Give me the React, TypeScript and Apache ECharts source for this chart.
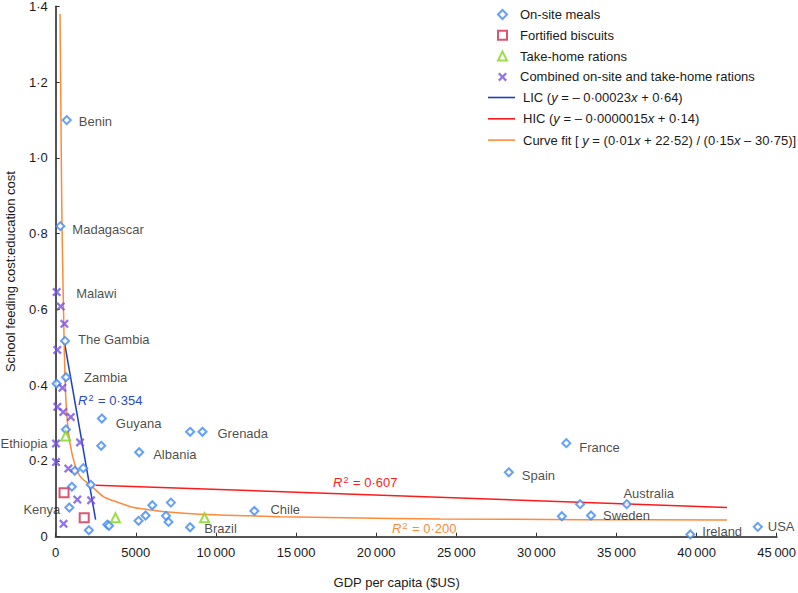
import React, { useEffect, useRef } from 'react';
import * as echarts from 'echarts';

// ---- Data ----
// [GDP per capita ($US), feeding cost : education cost, country label]
const onSiteMeals: [number, number, string][] = [
  [690, 1.10, 'Benin'],
  [290, 0.82, 'Madagascar'],
  [580, 0.517, 'The Gambia'],
  [640, 0.421, 'Zambia'],
  [60, 0.404, ''],
  [640, 0.283, ''],
  [2880, 0.312, 'Guyana'],
  [2840, 0.240, ''],
  [5210, 0.223, 'Albania'],
  [8390, 0.277, ''],
  [9160, 0.277, 'Grenada'],
  [1190, 0.174, ''],
  [1720, 0.181, ''],
  [2190, 0.137, ''],
  [1010, 0.132, ''],
  [850, 0.077, 'Kenya'],
  [2070, 0.017, ''],
  [3220, 0.032, ''],
  [3330, 0.029, ''],
  [5170, 0.042, ''],
  [5610, 0.056, ''],
  [6030, 0.083, ''],
  [6890, 0.055, ''],
  [7040, 0.039, ''],
  [7190, 0.090, ''],
  [8390, 0.025, ''],
  [12400, 0.068, 'Chile'],
  [28280, 0.170, 'Spain'],
  [31870, 0.247, 'France'],
  [31590, 0.054, ''],
  [32730, 0.086, ''],
  [33410, 0.056, 'Sweden'],
  [35640, 0.086, 'Australia'],
  [39610, 0.006, 'Ireland'],
  [43820, 0.026, 'USA'],
];

const fortifiedBiscuits: [number, number, string][] = [
  [520, 0.116, ''],
  [1780, 0.050, ''],
];

const takeHomeRations: [number, number, string][] = [
  [620, 0.266, ''],
  [3730, 0.050, ''],
  [9290, 0.050, 'Brazil'],
];

const combinedRations: [number, number, string][] = [
  [60, 0.646, 'Malawi'],
  [310, 0.608, ''],
  [540, 0.562, ''],
  [100, 0.493, ''],
  [420, 0.393, ''],
  [100, 0.343, ''],
  [475, 0.329, ''],
  [940, 0.316, ''],
  [1520, 0.249, ''],
  [20, 0.246, 'Ethiopia'],
  [20, 0.197, ''],
  [790, 0.180, ''],
  [1350, 0.098, ''],
  [2210, 0.096, ''],
  [490, 0.034, ''],
];

const licLine: [number, number][] = [
  [560, 0.51],
  [2490, 0.045],
];

const hicLine: [number, number][] = [
  [2500, 0.136],
  [41900, 0.077],
];

const curveFit: [number, number][] = [
  [270, 1.38], [310, 1.2], [350, 1.0], [395, 0.82], [475, 0.625],
  [580, 0.42], [700, 0.32], [900, 0.245], [1200, 0.19], [1550, 0.158],
  [2200, 0.135], [3000, 0.105], [3600, 0.095], [4800, 0.078], [5700, 0.072],
  [7000, 0.065], [9000, 0.059], [12000, 0.055], [14000, 0.053], [18000, 0.05],
  [24000, 0.047], [33000, 0.045], [41900, 0.044],
];

const yTicks = [0, 0.2, 0.4, 0.6, 0.8, 1.0, 1.2, 1.4];
const xTicks = [0, 5000, 10000, 15000, 20000, 25000, 30000, 35000, 40000, 45000];

const legendText: Record<string, string> = {
  'On-site meals': 'On-site meals',
  'Fortified biscuits': 'Fortified biscuits',
  'Take-home rations': 'Take-home rations',
  'Combined on-site and take-home rations': 'Combined on-site and take-home rations',
  LIC: 'LIC ({i|y} = – 0·00023{i|x} + 0·64)',
  HIC: 'HIC ({i|y} = – 0·0000015{i|x} + 0·14)',
  'Curve fit': 'Curve fit [ {i|y} = (0·01{i|x} + 22·52) / (0·15{i|x} – 30·75)]',
};

// label placement (styling, not data)
const labelPlacement: Record<string, any> = {
  Benin: { position: 'right', offset: [0, 1] },
  Madagascar: { position: 'right', offset: [0, 3] },
  Malawi: { position: 'right', offset: [8, 1] },
  'The Gambia': { position: 'right', offset: [1, -1] },
  Zambia: { position: 'right', offset: [6, 0] },
  Guyana: { position: 'right', offset: [2, 5] },
  Grenada: { position: 'right', offset: [3, 2] },
  Albania: { position: 'right', offset: [2, 2] },
  Chile: { position: 'right', offset: [4, -1] },
  Spain: { position: 'right', offset: [1, 3] },
  France: { position: 'right', offset: [1, 4] },
  Sweden: { position: 'right', offset: [0, 0] },
  Ireland: { position: 'right', offset: [0, -3] },
  USA: { position: 'right', offset: [-2, 0] },
  Australia: { position: 'top', distance: 0, offset: [22, 1] },
  Brazil: { position: 'bottom', distance: 0, offset: [16, -1] },
  Ethiopia: { position: 'left', distance: 4, offset: [0, 0] },
  Kenya: { position: 'left', distance: 4, offset: [0, 2] },
};

const FONT = '"Liberation Sans", Arial, Helvetica, sans-serif';
const CROSS = 'path://M0,1.8L1.8,0L5,3.2L8.2,0L10,1.8L6.8,5L10,8.2L8.2,10L5,6.8L1.8,10L0,8.2L3.2,5Z';
const BAR = 'path://M0,0L27,0L27,1.6L0,1.6Z';

const BLUE = '#3c88f5';
const RED_SQ = '#d42a4e';
const GREEN = '#82d41c';
const PURPLE = '#7550e6';
const LIC_C = '#1f3fc2';
const HIC_C = '#ff1a1a';
const CURVE_C = '#ff8a3a';

function toItems(arr: [number, number, string][]) {
  return arr.map(([x, y, name]) => {
    if (!name) return { value: [x, y] };
    const p = labelPlacement[name] || { position: 'right' };
    return {
      value: [x, y],
      name,
      label: {
        show: true,
        formatter: name,
        distance: 7,
        color: '#1a1a1a',
        fontSize: 13,
        fontFamily: FONT,
        ...p,
      },
    };
  });
}

function fmtY(v: number) {
  if (v === 0) return '0';
  return v.toFixed(1).replace('.', '·');
}
function fmtX(v: number) {
  if (v >= 10000) return `${Math.floor(v / 1000)}\u2009000`;
  return String(v);
}

function r2(text: string, color: string) {
  return {
    text: `{r|R}{s|2}{t| = ${text}}`,
    rich: {
      r: { fontStyle: 'italic', fontSize: 13, fill: color, fontFamily: FONT },
      s: { fontSize: 9, fill: color, verticalAlign: 'top', fontFamily: FONT, padding: [0, 1, 6, 1] },
      t: { fontSize: 13, fill: color, fontFamily: FONT },
    },
  };
}

export default function App() {
  const ref = useRef<HTMLDivElement>(null);
  useEffect(() => {
    document.body.style.margin = '0';
    if (!ref.current) return;
    const chart = echarts.init(ref.current, undefined, { renderer: 'svg' });
    const rich = { i: { fontStyle: 'italic', fontSize: 13, fontFamily: FONT, color: '#1a1a1a' } };
    const baseText = { fontSize: 13, fontFamily: FONT, color: '#1a1a1a', rich };
    const legendCommon = {
      orient: 'vertical',
      padding: 0,
      selectedMode: false,
      symbolKeepAspect: true,
      formatter: (n: string) => legendText[n] || n,
    };
    chart.setOption({
      animation: false,
      backgroundColor: '#ffffff',
      textStyle: { fontFamily: FONT },
      grid: {
        left: 55.7,
        right: 21.3,
        top: 6.5,
        bottom: 56.3,
        containLabel: false,
        outerBoundsMode: 'none',
      },
      legend: [
        {
          ...legendCommon,
          left: 497,
          top: 8,
          itemWidth: 9,
          itemHeight: 9,
          itemGap: 7.8,
          textStyle: { ...baseText, padding: [0, 0, 0, 8] },
          data: [
            { name: 'On-site meals', icon: 'emptyDiamond' },
            { name: 'Fortified biscuits', icon: 'emptyRect' },
            { name: 'Take-home rations', icon: 'emptyTriangle' },
            { name: 'Combined on-site and take-home rations', icon: CROSS },
          ],
        },
        {
          ...legendCommon,
          left: 488,
          top: 91,
          itemWidth: 27,
          itemHeight: 9,
          itemGap: 8.3,
          textStyle: { ...baseText, padding: [0, 0, 0, 3] },
          data: [
            { name: 'LIC', icon: BAR },
            { name: 'HIC', icon: BAR },
            { name: 'Curve fit', icon: BAR },
          ],
        },
      ],
      xAxis: {
        type: 'value',
        min: 0,
        max: 45000,
        interval: 5000,
        name: 'GDP per capita ($US)',
        nameLocation: 'middle',
        nameGap: 39,
        nameTextStyle: { fontSize: 13, color: '#1a1a1a', fontFamily: FONT, padding: [0, 39, 0, 0] },
        axisLine: { show: true, lineStyle: { color: '#555', width: 2 } },
        axisTick: { show: true, inside: true, length: 4, lineStyle: { color: '#333', width: 1 } },
        axisLabel: {
          margin: 9,
          fontSize: 13,
          color: '#1a1a1a',
          fontFamily: FONT,
          formatter: (v: number) => (xTicks.includes(v) ? fmtX(v) : ''),
        },
        splitLine: { show: false },
      },
      yAxis: {
        type: 'value',
        min: 0,
        max: 1.4,
        interval: 0.2,
        name: 'School feeding cost:education cost',
        nameLocation: 'middle',
        nameGap: 39,
        nameTextStyle: { fontSize: 13, color: '#1a1a1a', fontFamily: FONT },
        axisLine: { show: true, lineStyle: { color: '#555', width: 2 } },
        axisTick: { show: true, inside: true, length: 4, lineStyle: { color: '#333', width: 1 } },
        axisLabel: {
          margin: 8,
          fontSize: 13,
          color: '#1a1a1a',
          fontFamily: FONT,
          formatter: (v: number) => {
            const t = yTicks.find((k) => Math.abs(k - v) < 1e-6);
            return t === undefined ? '' : fmtY(t);
          },
        },
        splitLine: { show: false },
      },
      series: [
        {
          name: 'LIC',
          type: 'line',
          data: licLine,
          symbol: 'none',
          lineStyle: { color: LIC_C, width: 1.5 },
          itemStyle: { color: LIC_C },
          z: 2,
        },
        {
          name: 'HIC',
          type: 'line',
          data: hicLine,
          symbol: 'none',
          lineStyle: { color: HIC_C, width: 1.5 },
          itemStyle: { color: HIC_C },
          z: 2,
        },
        {
          name: 'Curve fit',
          type: 'line',
          data: curveFit,
          symbol: 'none',
          smooth: 0.3,
          lineStyle: { color: CURVE_C, width: 1.5 },
          itemStyle: { color: CURVE_C },
          z: 2,
        },
        {
          name: 'On-site meals',
          type: 'scatter',
          symbol: 'emptyDiamond',
          symbolSize: 8,
          symbolKeepAspect: true,
          itemStyle: { color: BLUE, borderWidth: 2 },
          data: toItems(onSiteMeals),
          z: 3,
        },
        {
          name: 'Fortified biscuits',
          type: 'scatter',
          symbol: 'emptyRect',
          symbolSize: 9,
          symbolKeepAspect: true,
          itemStyle: { color: RED_SQ, borderWidth: 2 },
          data: toItems(fortifiedBiscuits),
          z: 3,
        },
        {
          name: 'Take-home rations',
          type: 'scatter',
          symbol: 'emptyTriangle',
          symbolSize: 9,
          symbolKeepAspect: true,
          itemStyle: { color: GREEN, borderWidth: 2 },
          data: toItems(takeHomeRations),
          z: 3,
        },
        {
          name: 'Combined on-site and take-home rations',
          type: 'scatter',
          symbol: CROSS,
          symbolSize: 9,
          symbolKeepAspect: true,
          itemStyle: { color: PURPLE },
          data: toItems(combinedRations),
          z: 3,
        },
      ],
      graphic: [
        { type: 'text', left: 78, top: 393, style: r2('0·354', '#2a48cc') },
        { type: 'text', left: 333, top: 475, style: r2('0·607', HIC_C) },
        { type: 'text', left: 392, top: 521, style: r2('0·200', CURVE_C) },
      ],
    });
    return () => chart.dispose();
  }, []);
  return <div ref={ref} style={{ width: 798, height: 593 }} />;
}
